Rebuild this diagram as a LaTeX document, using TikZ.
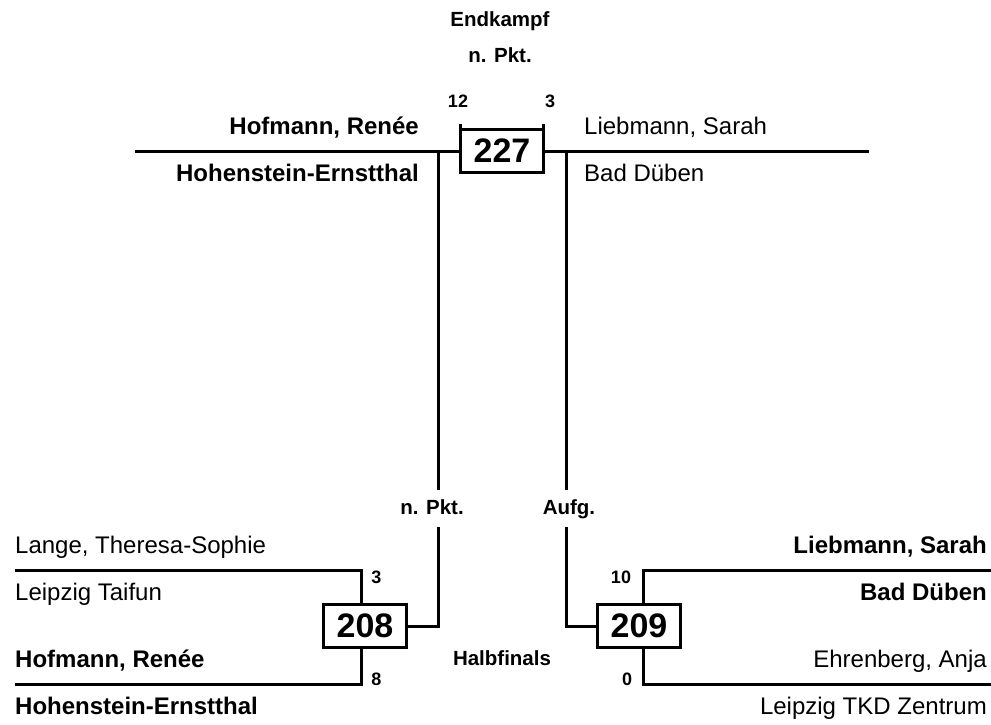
\documentclass[tikz,border=0pt]{standalone}
\usepackage{fontspec}
\setmainfont{Liberation Sans}
\begin{document}
\begin{tikzpicture}[x=1pt,y=-1pt,
  ln/.style={line width=3pt},
  mbox/.style={draw, line width=3pt, fill=white, inner sep=0pt, minimum width=83pt, minimum height=43pt, font=\fontsize{34}{36}\selectfont\bfseries},
  pname/.style={inner sep=0pt, font=\fontsize{24}{26}\selectfont},
  bname/.style={inner sep=0pt, font=\fontsize{24}{26}\selectfont\bfseries},
  lbl/.style={inner sep=0pt, font=\fontsize{20.5}{22}\selectfont\bfseries},
  score/.style={inner sep=0pt, font=\fontsize{18}{20}\selectfont\bfseries}]
\useasboundingbox (0,0) rectangle (991,725);

% boxes
\node[mbox] (b227) at (502,151) {227};
\node[mbox] (b208) at (365,626) {208};
\node[mbox] (b209) at (639,626) {209};

% header labels
\node[lbl, anchor=base] (endk) at (500,27) {Endkampf};
\node[lbl, anchor=base] (npktT) at (500,63) {n. Pkt.};
\node[score, anchor=base] (s12) at (458,107) {12};
\node[score, anchor=base] (s3t) at (550,107) {3};

% final names
\node[bname, anchor=base east] (t1) at (419,134) {Hofmann, Renée};
\node[bname, anchor=base east] (t2) at (419,181) {Hohenstein-Ernstthal};
\node[pname, anchor=base west] (t3) at (584,134) {Liebmann, Sarah};
\node[pname, anchor=base west] (t4) at (584,181) {Bad Düben};

% middle labels
\node[lbl, anchor=base] (npktL) at (432,514) {n. Pkt.};
\node[lbl, anchor=base] (aufg) at (569,514) {Aufg.};
\node[lbl, anchor=base] (halb) at (502,665) {Halbfinals};

% semifinal left
\node[pname, anchor=base west] (l1t) at (15,553) {Lange, Theresa-Sophie};
\node[pname, anchor=base west] (l2t) at (15,600) {Leipzig Taifun};
\node[bname, anchor=base west] (l3t) at (15,667) {Hofmann, Renée};
\node[bname, anchor=base west] (l4t) at (15,714) {Hohenstein-Ernstthal};
\node[score, anchor=base] (s3) at (376.5,583) {3};
\node[score, anchor=base] (s8) at (376.5,685) {8};

% semifinal right
\node[bname, anchor=base east] (r1t) at (987,553) {Liebmann, Sarah};
\node[bname, anchor=base east] (r2t) at (987,600) {Bad Düben};
\node[pname, anchor=base east] (r3t) at (987,667) {Ehrenberg, Anja};
\node[pname, anchor=base east] (r4t) at (987,714) {Leipzig TKD Zentrum};
\node[score, anchor=base] (s10) at (621,583) {10};
\node[score, anchor=base] (s0) at (627,685) {0};

% coordinates
\coordinate (tlA) at (135,151);
\coordinate (trA) at (869,151);
\coordinate (vl1) at (438,151);
\coordinate (vl2) at (438,490);
\coordinate (vl3) at (438,527);
\coordinate (vr1) at (566,151);
\coordinate (vr2) at (566,490);
\coordinate (vr3) at (566,527);
\coordinate (la) at (15,570);
\coordinate (lb) at (15,684);
\coordinate (ra) at (991,570);
\coordinate (rb) at (991,684);

% final lines
\draw[ln] (tlA) -- (b227.west);
\draw[ln] (b227.east) -- (trA);
\draw[ln] ([xshift=1.5pt]b227.north west) -- ++(0,-4);
\draw[ln] ([xshift=-1.5pt]b227.north east) -- ++(0,-4);
\draw[ln] (vl1) -- (vl2);
\draw[ln] (vr1) -- (vr2);
\draw[ln] (b208.east) -| (vl3);
\draw[ln] (b209.west) -| (vr3);

% brackets
\draw[ln] (la) -| ([xshift=-4pt]b208.north);
\draw[ln] (lb) -| ([xshift=-4pt]b208.south);
\draw[ln] (ra) -| ([xshift=4pt]b209.north);
\draw[ln] (rb) -| ([xshift=4pt]b209.south);
\end{tikzpicture}
\end{document}
